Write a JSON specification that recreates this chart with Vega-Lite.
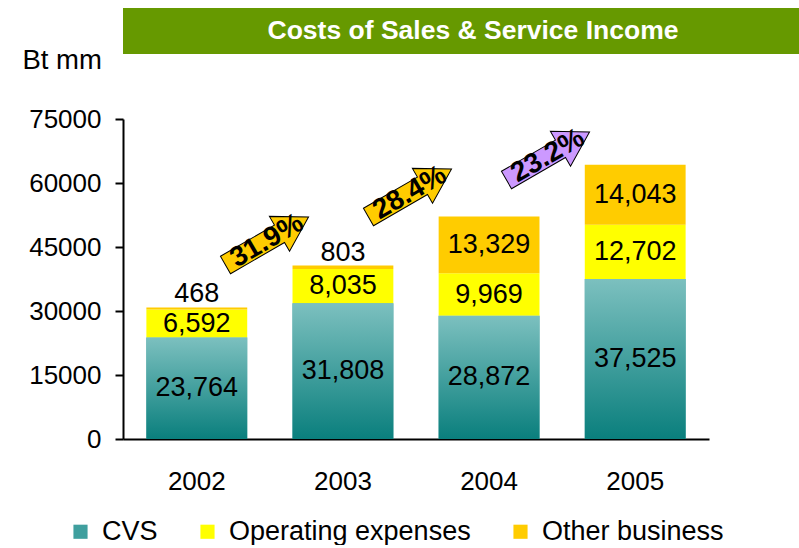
{
  "$schema": "https://vega.github.io/schema/vega-lite/v6.json",
  "autosize": {"type": "pad"},
  "padding": {"left": 22, "top": 8, "right": 0, "bottom": 0},
  "background": "white",
  "config": {"font": "Liberation Sans", "view": {"stroke": null}},
  "bounds": "flush",
  "spacing": 65,
  "datasets": {
    "costs": [
      {"year": "2002", "series": "CVS", "value": 23764},
      {"year": "2002", "series": "Operating expenses", "value": 6592},
      {"year": "2002", "series": "Other business", "value": 468},
      {"year": "2003", "series": "CVS", "value": 31808},
      {"year": "2003", "series": "Operating expenses", "value": 8035},
      {"year": "2003", "series": "Other business", "value": 803},
      {"year": "2004", "series": "CVS", "value": 28872},
      {"year": "2004", "series": "Operating expenses", "value": 9969},
      {"year": "2004", "series": "Other business", "value": 13329},
      {"year": "2005", "series": "CVS", "value": 37525},
      {"year": "2005", "series": "Operating expenses", "value": 12702},
      {"year": "2005", "series": "Other business", "value": 14043}
    ],
    "growth": [
      {"pos": 0.983, "level": 46400, "label": "31.9%"},
      {"pos": 1.959, "level": 57650, "label": "28.4%"},
      {"pos": 2.901, "level": 66330, "label": "23.2%"}
    ],
    "heading": [{"text": "Costs of Sales & Service Income"}]
  },
  "vconcat": [
    {
      "data": {"name": "heading"},
      "width": 676,
      "height": 46,
      "view": {"fill": "#669900", "stroke": null},
      "mark": {"type": "text", "font": "Liberation Sans", "fontSize": 26.5, "fontWeight": "bold", "color": "white", "align": "center", "baseline": "middle", "dx": 12},
      "encoding": {"text": {"field": "text", "type": "nominal"}}
    },
    {
      "width": 586,
      "height": 320,
      "layer": [
        {
          "data": {"name": "costs"},
          "transform": [
            {"stack": "value", "groupby": ["year"], "sort": [{"field": "series", "order": "ascending"}], "as": ["v0", "v1"]},
            {"calculate": "(datum.v0 + datum.v1) / 2", "as": "mid"}
          ],
          "layer": [
            {
              "mark": {"type": "bar"},
              "encoding": {
                "x": {
                  "field": "year", "type": "nominal",
                  "scale": {"paddingInner": 0.31, "paddingOuter": 0.16},
                  "axis": {"title": null, "labelAngle": 0, "ticks": false, "labelPadding": 29, "labelFontSize": 26, "labelFont": "Liberation Sans", "labelColor": "black", "domainColor": "black", "domainWidth": 2}
                },
                "y": {
                  "field": "v1", "type": "quantitative", "title": "Bt mm",
                  "scale": {"domain": [0, 75000], "nice": false},
                  "axis": {
                    "title": "Bt mm", "values": [0, 15000, 30000, 45000, 60000, 75000], "format": "d", "grid": false,
                    "tickSize": 8, "tickColor": "black", "tickWidth": 2, "domainColor": "black", "domainWidth": 2,
                    "labelFontSize": 26, "labelFont": "Liberation Sans", "labelColor": "black", "labelPadding": 14,
                    "titleAngle": 0, "titleAlign": "left", "titleBaseline": "alphabetic", "titleX": -101, "titleY": -51,
                    "titleFontSize": 27.5, "titleFontWeight": "normal", "titleFont": "Liberation Sans", "titleColor": "black"
                  }
                },
                "y2": {"field": "v0"},
                "color": {
                  "field": "series", "type": "nominal",
                  "scale": {
                    "domain": ["CVS", "Operating expenses", "Other business"],
                    "range": ["#3f9f9e", "#FFFF00", "#FFCC00"]
                  },
                  "legend": {
                    "title": null, "orient": "none", "legendX": -56, "legendY": 399, "direction": "horizontal", "symbolType": "square", "symbolSize": 200,
                    "labelFontSize": 27, "labelFont": "Liberation Sans", "labelColor": "black", "labelLimit": 400, "columnPadding": 36,
                    "labelOffset": 8, "symbolStrokeWidth": 0,
                    "encode": {
                      "symbols": {
                        "update": {
                          "fill": [
                            {"test": "datum.label === 'CVS'", "value": {"gradient": "linear", "x1": 0, "y1": 0, "x2": 0, "y2": 1, "stops": [{"offset": 0, "color": "#7cc0bf"}, {"offset": 1, "color": "#0a7f7d"}]}},
                            {"test": "datum.label === 'Operating expenses'", "value": "#FFFF00"},
                            {"value": "#FFCC00"}
                          ]
                        }
                      }
                    }
                  }
                }
              }
            },
            {
              "transform": [{"filter": "datum.series === 'CVS'"}],
              "mark": {"type": "bar", "color": {"gradient": "linear", "x1": 0, "y1": 0, "x2": 0, "y2": 1, "stops": [{"offset": 0, "color": "#7cc0bf"}, {"offset": 1, "color": "#0a7f7d"}]}},
              "encoding": {
                "x": {"field": "year", "type": "nominal"},
                "y": {"field": "v1", "type": "quantitative", "title": "Bt mm"},
                "y2": {"field": "v0"}
              }
            },
            {
              "transform": [{"filter": "datum.value >= 2000"}],
              "mark": {"type": "text", "fontSize": 27, "font": "Liberation Sans", "color": "black", "baseline": "middle", "align": "center"},
              "encoding": {
                "x": {"field": "year", "type": "nominal"},
                "y": {"field": "mid", "type": "quantitative", "title": "Bt mm"},
                "text": {"field": "value", "type": "quantitative", "format": ",d"}
              }
            },
            {
              "transform": [{"filter": "datum.value < 2000"}],
              "mark": {"type": "text", "fontSize": 27, "font": "Liberation Sans", "color": "black", "baseline": "alphabetic", "align": "center", "dy": -5},
              "encoding": {
                "x": {"field": "year", "type": "nominal"},
                "y": {"field": "v1", "type": "quantitative", "title": "Bt mm"},
                "text": {"field": "value", "type": "quantitative", "format": ",d"}
              }
            }
          ]
        },
        {
          "data": {"name": "growth"},
          "layer": [
            {
              "mark": {"type": "point", "shape": "M -1 -0.21 L 0.3 -0.21 L 0.3 -0.42 L 1 0 L 0.3 0.42 L 0.3 0.21 L -1 0.21 Z", "size": 9200, "angle": 330, "filled": true, "stroke": "black", "strokeWidth": 1, "opacity": 1},
              "encoding": {
                "x": {"field": "pos", "type": "quantitative", "scale": {"domain": [0, 4], "nice": false}, "axis": null},
                "y": {"field": "level", "type": "quantitative", "title": "Bt mm"},
                "color": {"field": "label", "type": "nominal", "scale": {"domain": ["31.9%", "28.4%", "23.2%"], "range": ["#FFCC00", "#FFCC00", "#CC99FF"]}, "legend": null}
              }
            },
            {
              "mark": {"type": "text", "angle": 330, "fontSize": 28, "fontWeight": "bold", "font": "Liberation Sans", "color": "black", "align": "center", "baseline": "middle"},
              "encoding": {
                "x": {"field": "pos", "type": "quantitative", "scale": {"domain": [0, 4], "nice": false}, "axis": null},
                "y": {"field": "level", "type": "quantitative", "title": "Bt mm"},
                "text": {"field": "label", "type": "nominal"}
              }
            }
          ]
        }
      ],
      "resolve": {"scale": {"x": "independent", "color": "independent"}}
    }
  ]
}
